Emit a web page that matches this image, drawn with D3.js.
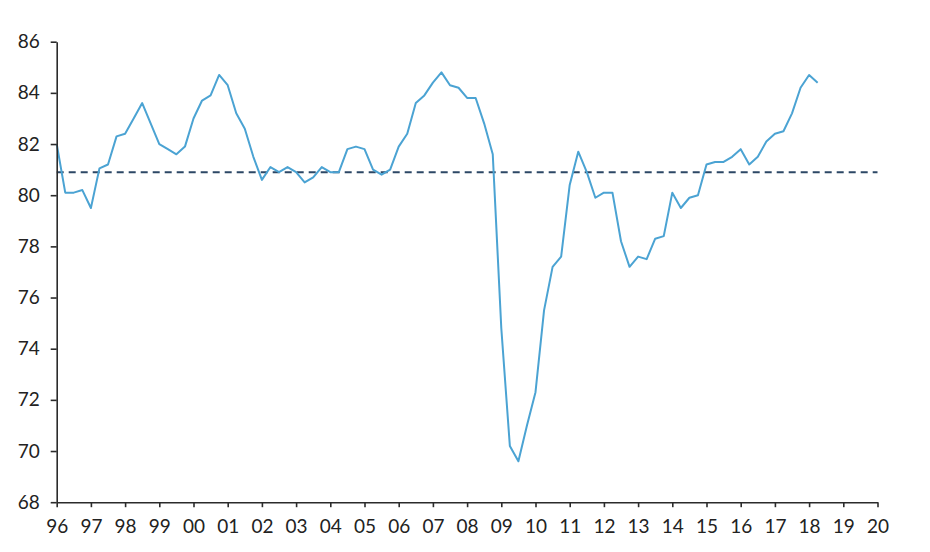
<!DOCTYPE html>
<html>
<head>
<meta charset="utf-8">
<script src="https://cdn.jsdelivr.net/npm/d3@7"></script>
<style>
  html, body { margin: 0; padding: 0; background: #fff; }
  svg { display: block; }
  .axis text { font-family: Lato, "Open Sans", sans-serif; font-size: 19px; fill: #222; }
  .axis path, .axis line { stroke: #2b2b2b; stroke-width: 1.6; }
</style>
</head>
<body>
<svg id="chart" width="930" height="552"></svg>
<script>
// Quarterly series, starting 1996 Q1
const startYear = 1996;
const values = [
  82.0, 80.1, 80.1, 80.2,   // 96
  79.5, 81.05, 81.2, 82.3,  // 97
  82.4, 83.0, 83.6, 82.8,   // 98
  82.0, 81.8, 81.6, 81.9,   // 99
  83.0, 83.7, 83.9, 84.7,   // 00
  84.3, 83.2, 82.6, 81.5,   // 01
  80.6, 81.1, 80.9, 81.1,   // 02
  80.9, 80.5, 80.7, 81.1,   // 03
  80.9, 80.9, 81.8, 81.9,   // 04
  81.8, 81.0, 80.8, 81.0,   // 05
  81.9, 82.4, 83.6, 83.9,   // 06
  84.4, 84.8, 84.3, 84.2,   // 07
  83.8, 83.8, 82.8, 81.6,   // 08
  74.8, 70.2, 69.6, 71.0,   // 09
  72.3, 75.5, 77.2, 77.6,   // 10
  80.4, 81.7, 80.9, 79.9,   // 11
  80.1, 80.1, 78.2, 77.2,   // 12
  77.6, 77.5, 78.3, 78.4,   // 13
  80.1, 79.5, 79.9, 80.0,   // 14
  81.2, 81.3, 81.3, 81.5,   // 15
  81.8, 81.2, 81.5, 82.1,   // 16
  82.4, 82.5, 83.2, 84.2,   // 17
  84.7, 84.4                // 18
];
const averageLevel = 80.9;
const yTicks = [68, 70, 72, 74, 76, 78, 80, 82, 84, 86];
const xTicks = [1996, 1997, 1998, 1999, 2000, 2001, 2002, 2003, 2004, 2005, 2006, 2007, 2008,
                2009, 2010, 2011, 2012, 2013, 2014, 2015, 2016, 2017, 2018, 2019, 2020];

const data = values.map((v, i) => ({ t: startYear + i / 4, v }));

const svg = d3.select("#chart");
const x = d3.scaleLinear().domain([1996, 2020]).range([56.7, 877.5]);
const y = d3.scaleLinear().domain([68, 86]).range([502.2, 41.7]);

// Average dashed line
svg.append("line")
  .attr("x1", x(1996)).attr("x2", x(2020))
  .attr("y1", y(averageLevel)).attr("y2", y(averageLevel))
  .attr("stroke", "#2c4765")
  .attr("stroke-width", 2)
  .attr("stroke-dasharray", "7,5");

// Series line
svg.append("path")
  .datum(data)
  .attr("fill", "none")
  .attr("stroke", "#4ba3d3")
  .attr("stroke-width", 2)
  .attr("stroke-linejoin", "round")
  .attr("d", d3.line().x(d => x(d.t)).y(d => y(d.v)));

// Y axis
svg.append("g")
  .attr("class", "axis")
  .attr("transform", `translate(${x(1996)},0)`)
  .call(d3.axisLeft(y).tickValues(yTicks).tickSize(6).tickSizeOuter(0).tickPadding(11));

// X axis
svg.append("g")
  .attr("class", "axis")
  .attr("transform", `translate(0,${y(68)})`)
  .call(d3.axisBottom(x).tickValues(xTicks).tickSize(5).tickSizeOuter(0).tickPadding(12)
    .tickFormat(d => String(d % 100).padStart(2, "0")));
</script>
</body>
</html>
